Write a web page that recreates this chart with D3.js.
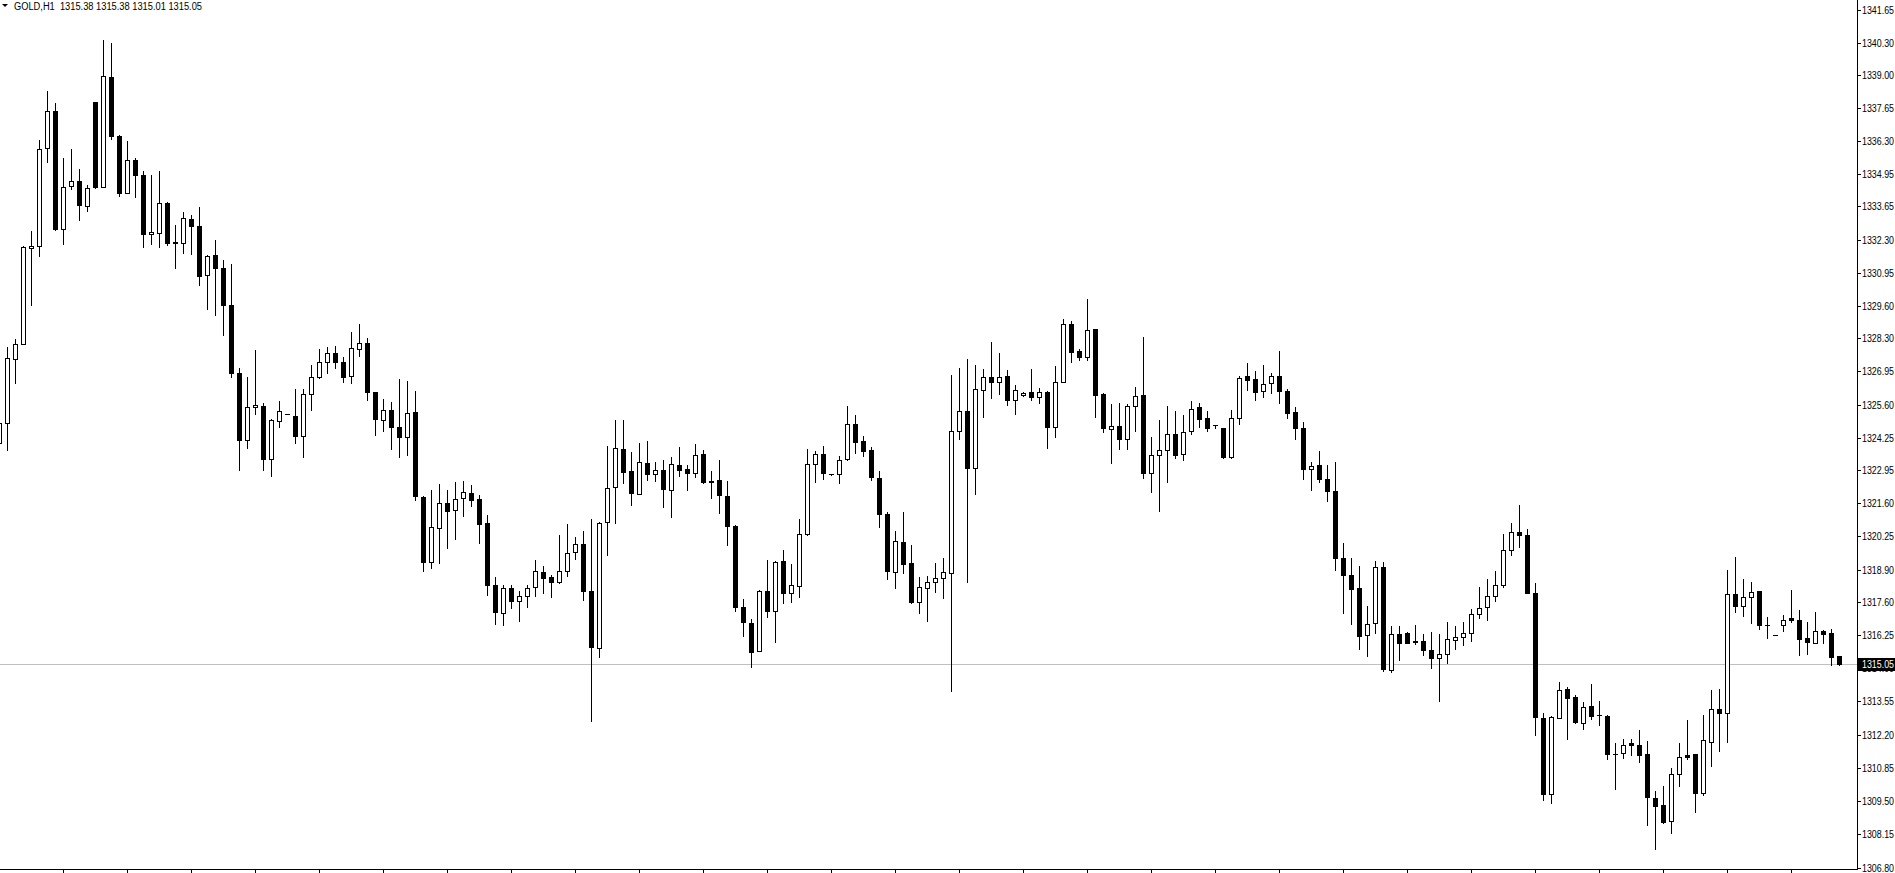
<!DOCTYPE html>
<html><head><meta charset="utf-8">
<script src="https://cdn.jsdelivr.net/npm/d3@7"></script>
<style>html,body{margin:0;padding:0;background:#fff;overflow:hidden}</style>
</head><body>
<svg id="c" width="1895" height="873"></svg>
<script>
const symbolLabel = "GOLD,H1";
const headerValues = ["1315.38", "1315.38", "1315.01", "1315.05"];
const bidPrice = 1315.05;
const opens = [
1324.05,1324.87,1327.47,1328.08,1331.98,1332.05,1336.04,1337.52,1332.75,1334.50,
1334.70,1333.67,1337.88,1334.46,1338.90,1336.53,1334.20,1335.55,1334.94,1332.55,
1332.59,1333.81,1332.17,1332.18,1333.16,1332.87,1330.88,1331.69,1331.14,1329.66,
1326.87,1324.17,1325.52,1325.56,1323.40,1324.95,1325.23,1325.15,1324.32,1326.05,
1326.72,1327.33,1327.71,1327.35,1326.78,1327.87,1328.12,1326.10,1324.99,1325.40,
1324.70,1324.28,1325.31,1321.86,1319.20,1320.59,1321.62,1321.32,1321.82,1322.02,
1321.78,1320.80,1318.28,1317.13,1318.16,1317.63,1317.84,1318.20,1318.81,1318.58,
1318.39,1318.85,1319.62,1319.95,1318.04,1315.72,1320.84,1322.27,1323.81,1322.89,
1321.98,1323.24,1322.79,1322.96,1322.14,1323.16,1323.00,1322.83,1323.61,1322.51,
1322.55,1321.90,1320.68,1317.39,1316.74,1315.60,1318.04,1317.22,1319.26,1317.96,
1318.24,1320.34,1323.20,1323.58,1322.78,1322.79,1323.40,1324.83,1324.11,1323.74,
1322.64,1321.14,1318.81,1320.04,1319.15,1317.59,1318.16,1318.41,1318.57,1318.77,
1324.54,1325.35,1323.02,1326.21,1326.74,1326.53,1326.75,1325.80,1325.99,1326.13,
1325.92,1326.13,1324.69,1326.53,1328.86,1327.77,1327.53,1328.66,1326.02,1324.61,
1324.72,1324.20,1325.56,1325.98,1322.82,1323.57,1323.76,1324.42,1323.59,1324.54,
1325.49,1325.04,1324.78,1324.64,1323.48,1325.06,1326.75,1326.63,1326.15,1326.48,
1326.78,1326.14,1325.29,1324.64,1323.00,1323.13,1322.59,1322.10,1319.39,1318.69,
1318.14,1316.25,1316.74,1319.01,1314.82,1316.29,1316.33,1316.01,1316.01,1315.64,
1315.32,1315.48,1316.05,1316.17,1316.33,1317.11,1317.39,1317.84,1318.28,1319.71,
1320.44,1320.32,1317.93,1312.88,1309.79,1312.88,1314.03,1313.73,1312.68,1313.37,
1312.99,1312.97,1311.43,1311.44,1311.84,1311.78,1311.39,1309.63,1309.32,1308.68,
1310.60,1311.35,1311.39,1309.82,1311.90,1313.25,1313.08,1317.92,1317.42,1317.78,
1318.03,1316.66,1316.25,1316.66,1316.92,1316.87,1316.14,1315.93,1316.41,1316.31,
1315.38];
const highs = [
1324.96,1327.94,1328.25,1332.03,1332.64,1336.34,1338.33,1337.84,1335.61,1335.97,
1335.16,1334.51,1337.90,1340.40,1340.28,1336.56,1336.30,1335.61,1335.08,1334.92,
1335.08,1333.83,1332.89,1333.41,1333.29,1333.62,1331.67,1332.28,1331.46,1331.30,
1327.07,1326.71,1327.81,1325.68,1325.01,1325.73,1325.23,1326.22,1326.25,1327.20,
1327.85,1327.93,1327.97,1327.52,1328.54,1328.86,1328.29,1326.11,1325.81,1325.69,
1326.63,1326.55,1326.14,1321.88,1322.12,1322.36,1322.12,1322.44,1322.48,1322.32,
1321.91,1321.10,1318.58,1318.28,1318.28,1318.05,1318.26,1319.27,1319.03,1318.70,
1320.29,1320.74,1320.21,1320.45,1320.94,1320.82,1323.91,1324.96,1324.96,1323.66,
1324.05,1324.11,1323.26,1323.34,1323.46,1323.86,1323.13,1323.99,1323.74,1322.89,
1323.34,1322.48,1320.70,1317.72,1316.90,1318.07,1319.27,1319.26,1319.68,1319.12,
1320.94,1323.78,1323.70,1323.94,1322.80,1323.50,1325.53,1325.16,1324.31,1323.86,
1322.89,1321.25,1320.45,1321.24,1319.88,1318.58,1318.66,1319.15,1319.39,1326.79,
1327.07,1327.44,1327.20,1327.03,1328.13,1327.68,1326.99,1326.38,1326.11,1327.03,
1326.29,1326.15,1327.16,1329.07,1328.98,1327.85,1329.88,1328.68,1326.06,1325.61,
1325.65,1325.61,1326.30,1328.33,1324.27,1324.96,1325.53,1325.33,1325.16,1325.73,
1325.65,1325.33,1324.79,1324.66,1325.37,1326.75,1327.28,1326.95,1327.20,1326.87,
1327.77,1326.22,1325.49,1324.88,1323.29,1323.70,1323.13,1323.26,1320.00,1319.37,
1319.03,1317.44,1319.23,1319.19,1316.59,1316.59,1316.35,1316.63,1316.28,1316.35,
1316.27,1316.79,1316.59,1316.79,1317.28,1318.18,1318.50,1318.83,1320.33,1320.78,
1321.51,1320.56,1318.34,1313.08,1312.94,1314.32,1314.15,1313.81,1313.53,1314.26,
1313.58,1312.99,1311.84,1312.00,1312.00,1312.40,1311.92,1309.89,1310.13,1310.86,
1311.84,1312.81,1311.40,1313.01,1313.99,1314.06,1318.87,1319.43,1318.50,1318.38,
1318.05,1316.98,1316.25,1317.04,1318.09,1317.24,1316.79,1317.16,1316.43,1316.47,
1315.38];
const lows = [
1323.80,1323.74,1326.48,1328.05,1329.63,1331.64,1335.46,1332.70,1332.13,1334.36,
1333.09,1333.45,1334.42,1334.43,1336.39,1334.08,1334.18,1334.04,1332.00,1332.13,
1332.00,1332.09,1331.15,1331.76,1331.72,1330.46,1329.49,1329.24,1328.43,1326.72,
1322.94,1323.84,1325.22,1322.93,1322.70,1324.69,1325.23,1324.04,1323.47,1325.38,
1326.67,1326.89,1327.09,1326.52,1326.48,1327.58,1325.79,1324.37,1324.53,1323.80,
1323.47,1323.55,1321.72,1318.84,1318.96,1319.16,1319.77,1320.14,1321.07,1321.48,
1319.98,1317.86,1316.70,1316.66,1317.34,1316.81,1317.39,1317.82,1317.95,1317.78,
1318.37,1318.64,1319.33,1317.66,1312.74,1315.34,1319.49,1320.79,1322.42,1321.52,
1321.96,1322.54,1322.50,1321.44,1321.03,1322.70,1322.13,1322.66,1322.42,1321.81,
1321.20,1319.90,1317.22,1316.20,1314.94,1315.58,1316.97,1315.95,1317.54,1317.58,
1317.78,1320.30,1322.46,1322.58,1322.76,1322.41,1323.35,1323.63,1323.51,1322.54,
1320.63,1318.51,1318.15,1318.76,1317.54,1317.13,1316.81,1317.99,1317.76,1313.96,
1324.20,1318.38,1321.97,1325.10,1325.87,1326.03,1325.59,1325.22,1325.94,1325.77,
1325.67,1323.84,1324.28,1326.51,1327.33,1327.41,1327.41,1325.10,1324.49,1323.23,
1323.80,1323.80,1324.53,1322.62,1322.05,1321.28,1322.46,1323.43,1323.35,1324.41,
1324.69,1324.53,1324.65,1323.45,1323.43,1324.81,1326.19,1325.79,1325.91,1326.07,
1325.67,1325.06,1324.20,1322.58,1322.13,1322.46,1321.68,1318.89,1317.13,1316.69,
1315.67,1315.39,1316.32,1314.79,1314.73,1315.22,1315.91,1315.89,1315.44,1314.90,
1313.56,1315.10,1315.67,1315.83,1316.00,1316.93,1316.85,1317.62,1318.19,1319.49,
1319.81,1317.93,1312.18,1309.53,1309.43,1312.86,1312.01,1312.66,1312.42,1312.84,
1312.58,1311.20,1309.98,1311.24,1311.35,1311.08,1308.53,1307.54,1308.62,1308.21,
1310.10,1311.21,1309.05,1309.75,1310.91,1311.53,1311.89,1317.17,1317.01,1316.73,
1316.48,1316.12,1316.25,1316.40,1316.77,1315.43,1315.47,1315.91,1315.91,1315.02,
1315.01];
const closes = [
1324.87,1327.51,1328.08,1331.99,1332.06,1336.00,1337.52,1332.74,1334.46,1334.70,
1333.71,1334.42,1334.44,1338.93,1336.50,1334.20,1335.55,1334.93,1332.53,1332.63,
1333.81,1332.17,1332.19,1333.20,1332.86,1330.83,1331.65,1331.15,1329.65,1326.90,
1324.16,1325.52,1325.60,1323.39,1324.99,1325.35,1325.23,1324.32,1326.05,1326.74,
1327.35,1327.71,1327.33,1326.72,1327.91,1328.12,1326.11,1325.02,1325.40,1324.69,
1324.28,1325.27,1321.89,1319.20,1320.64,1321.62,1321.28,1321.78,1322.06,1321.72,
1320.75,1318.27,1317.17,1318.16,1317.63,1317.84,1318.16,1318.85,1318.55,1318.39,
1318.85,1319.58,1319.95,1318.03,1315.75,1320.80,1322.23,1323.85,1322.88,1322.01,
1323.28,1322.78,1322.96,1322.17,1323.20,1322.94,1322.82,1323.57,1322.46,1322.46,
1321.93,1320.67,1317.38,1316.77,1315.55,1318.04,1317.22,1319.22,1317.95,1318.28,
1320.36,1323.20,1323.58,1322.82,1322.78,1323.36,1324.83,1324.08,1323.73,1322.66,
1321.16,1318.84,1320.07,1319.12,1317.59,1318.18,1318.41,1318.57,1318.81,1324.54,
1325.35,1323.02,1326.25,1326.74,1326.52,1326.74,1325.79,1326.18,1326.09,1325.91,
1326.13,1324.69,1326.53,1328.86,1327.74,1327.53,1328.65,1326.00,1324.65,1324.75,
1324.20,1325.56,1325.96,1322.82,1323.57,1323.77,1324.42,1323.55,1324.50,1325.44,
1325.02,1324.65,1324.78,1323.47,1325.07,1326.69,1326.60,1326.11,1326.45,1326.78,
1326.15,1325.26,1324.66,1322.98,1323.12,1322.58,1322.09,1319.37,1318.68,1318.11,
1316.20,1316.70,1319.01,1314.86,1316.29,1315.93,1315.93,1315.95,1315.63,1315.32,
1315.47,1316.09,1316.17,1316.33,1317.11,1317.35,1317.84,1318.28,1319.71,1320.44,
1320.32,1317.95,1312.91,1309.79,1312.92,1314.02,1313.69,1312.70,1313.33,1312.96,
1312.99,1311.40,1311.43,1311.78,1311.77,1311.37,1309.67,1309.29,1308.64,1310.60,
1311.29,1311.28,1309.82,1311.96,1313.25,1313.07,1317.92,1317.42,1317.80,1318.00,
1316.65,1316.66,1316.25,1316.86,1316.86,1316.08,1315.95,1316.41,1316.28,1315.36,
1315.05];
const priceTicks = [1341.65,1340.30,1339.00,1337.65,1336.30,1334.95,1333.65,1332.30,1330.95,1329.60,
1328.30,1326.95,1325.60,1324.25,1322.95,1321.60,1320.25,1318.90,1317.60,1316.25,
1314.90,1313.55,1312.20,1310.85,1309.50,1308.15,1306.80];
const timeTickEvery = 8;

const axisX = 1857, axisY = 869;
const font = "'Liberation Sans', Arial, sans-serif";
const svg = d3.select("#c").attr("shape-rendering","crispEdges");
const bars = d3.range(opens.length).map(i => ({i, o:opens[i], h:highs[i], l:lows[i], c:closes[i]}));

const y = d3.scaleLinear().domain([1306.80, 1341.65]).range([867.5, 9.5]);
const x = d3.scaleLinear().domain([0, bars.length - 1]).range([-0.5, 1839.5]);
const R = v => Math.round(y(v));

svg.append("rect").attr("width",1895).attr("height",873).attr("fill","#fff");

// bid line
const by = R(bidPrice) + 0.5;
svg.append("line").attr("x1",0).attr("x2",axisX).attr("y1",by).attr("y2",by)
  .attr("stroke","#c0c0c0").attr("stroke-width",1);

const g = svg.append("g");
bars.forEach(b => {
  const cx = x(b.i);
  const yh = R(b.h), yl = R(b.l);
  if (yl > yh) {
    g.append("rect").attr("x", cx - 0.5).attr("y", yh).attr("width", 1)
      .attr("height", yl - yh + 1).attr("fill", "#000");
  }
  const yo = R(b.o), yc = R(b.c);
  if (b.c > b.o && yo - yc >= 1) {
    g.append("rect").attr("x", cx - 2).attr("y", yc + 0.5).attr("width", 4)
      .attr("height", yo - yc).attr("fill", "#fff").attr("stroke", "#000").attr("stroke-width", 1);
  } else if (b.c < b.o && yc - yo >= 1) {
    g.append("rect").attr("x", cx - 2.5).attr("y", yo).attr("width", 5)
      .attr("height", yc - yo + 1).attr("fill", "#000");
  } else {
    g.append("rect").attr("x", cx - 2.5).attr("y", yc).attr("width", 5)
      .attr("height", 1).attr("fill", "#000");
  }
});

// axes
svg.append("line").attr("x1", axisX + 0.5).attr("x2", axisX + 0.5).attr("y1", 0).attr("y2", axisY + 1)
  .attr("stroke", "#000");
svg.append("line").attr("x1", 0).attr("x2", axisX + 1).attr("y1", axisY + 0.5).attr("y2", axisY + 0.5)
  .attr("stroke", "#000");

const yt = svg.append("g");
priceTicks.forEach(v => {
  const ty = R(v) + 0.5;
  yt.append("line").attr("x1", axisX).attr("x2", axisX + 4).attr("y1", ty).attr("y2", ty).attr("stroke", "#000");
  yt.append("text").attr("x", axisX + 5).attr("y", ty + 3.5).attr("font-family", font)
    .attr("font-size", "10px").attr("fill", "#000")
    .attr("textLength", 32).attr("lengthAdjust", "spacingAndGlyphs").text(v.toFixed(2));
});

bars.filter(b => b.i > 0 && b.i % timeTickEvery === 0).forEach(b => {
  svg.append("line").attr("x1", x(b.i)).attr("x2", x(b.i)).attr("y1", axisY).attr("y2", axisY + 4)
    .attr("stroke", "#000");
});

// bid label
svg.append("rect").attr("x", axisX + 1).attr("y", by - 6.5).attr("width", 40).attr("height", 13).attr("fill", "#000");
svg.append("text").attr("x", axisX + 5).attr("y", by + 3.5).attr("font-family", font).attr("font-size", "10px")
  .attr("fill", "#fff").attr("textLength", 32).attr("lengthAdjust", "spacingAndGlyphs").text(bidPrice.toFixed(2));

// header
svg.append("path").attr("d", "M2,4L8,4L5,7Z").attr("fill", "#000").attr("shape-rendering", "auto");
svg.append("text").attr("x", 14).attr("y", 10).attr("font-family", font).attr("font-size", "10px")
  .attr("fill", "#000").attr("xml:space", "preserve")
  .attr("textLength", 188).attr("lengthAdjust", "spacingAndGlyphs")
  .text(symbolLabel + "  " + headerValues.join(" "));
</script>
</body></html>
